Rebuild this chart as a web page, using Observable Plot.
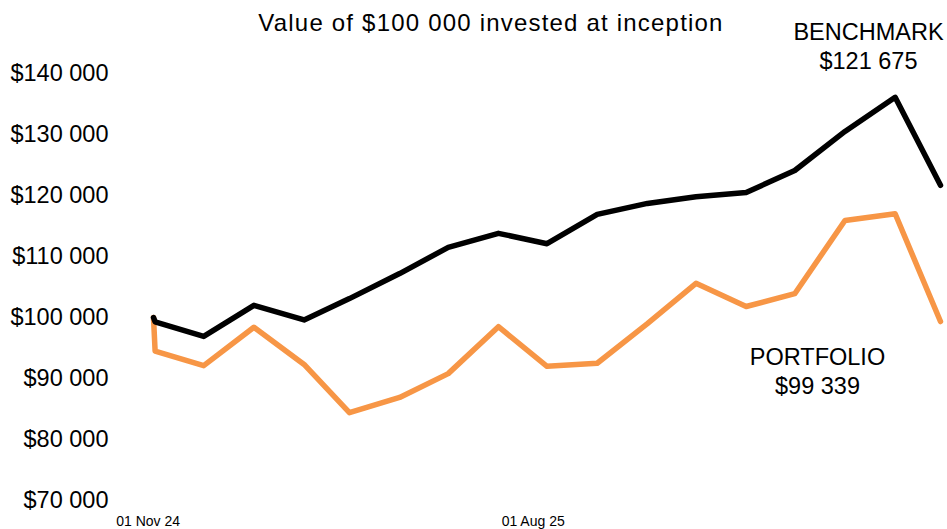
<!DOCTYPE html>
<html>
<head>
<meta charset="utf-8">
<script src="https://cdn.jsdelivr.net/npm/d3@7"></script>
<script src="https://cdn.jsdelivr.net/npm/@observablehq/plot@0.6"></script>
<style>
  html, body { margin: 0; padding: 0; background: #fff; }
  #wrap { position: relative; width: 947px; height: 529px; font-family: "Liberation Sans", Arial, sans-serif; }
  #title { position: absolute; top: 9px; left: 0; width: 982px; text-align: center; font-size: 24px; color: #000; letter-spacing: 1.2px; }
</style>
</head>
<body>
<div id="wrap"><div id="title">Value of $100 000 invested at inception</div></div>
<script>
const title = "Value of $100 000 invested at inception";
const dates = ["2024-10-31","2024-11-01","2024-12-01","2025-01-01","2025-02-01","2025-03-01","2025-04-01","2025-05-01","2025-06-01","2025-07-01","2025-08-01","2025-09-01","2025-10-01","2025-11-01","2025-12-01","2026-01-01","2026-02-01","2026-03-01"];
const benchmark = [100000, 99300, 96900, 102000, 99600, 103100, 107200, 111500, 113800, 112100, 116900, 118700, 119800, 120500, 124100, 130500, 136100, 121675];
const portfolio = [100000, 94500, 92100, 98400, 92300, 84400, 86900, 90800, 98500, 92000, 92500, 99000, 105600, 101800, 103900, 115900, 117000, 99339];
const seriesNames = ["BENCHMARK", "PORTFOLIO"];
const seriesColors = ["#000000", "#F79646"];
const yTicks = [70000, 80000, 90000, 100000, 110000, 120000, 130000, 140000];
const xTickDates = ["2024-11-01", "2025-08-01"];
const xTickLabels = ["01 Nov 24", "01 Aug 25"];

const parse = d3.utcParse("%Y-%m-%d");
const money = v => "$" + d3.format(",")(Math.round(v)).replace(/,/g, " ");

const rows = [];
// portfolio drawn first so the benchmark line sits on top
[[portfolio, 1], [benchmark, 0]].forEach(([vals, s]) => {
  vals.forEach((v, i) => rows.push({series: seriesNames[s], date: parse(dates[i]), value: v}));
});
const lastIdx = dates.length - 1;
const endLabels = [benchmark, portfolio].map((vals, s) => ({
  series: seriesNames[s], date: parse(dates[lastIdx]), value: vals[lastIdx],
  text: seriesNames[s] + "\n" + money(vals[lastIdx])
}));
const xt = xTickDates.map((d, i) => ({date: parse(d), label: xTickLabels[i]}));

const chart = Plot.plot({
  width: 947,
  height: 529,
  marginLeft: 153,
  marginRight: 7,
  marginTop: 73,
  marginBottom: 29,
  style: {fontFamily: "'Liberation Sans', Arial, sans-serif", background: "transparent", color: "#000"},
  x: {type: "utc", domain: [parse(dates[0]), parse(dates[lastIdx])], axis: null},
  y: {domain: [70000, 140000], axis: null},
  color: {domain: seriesNames, range: seriesColors},
  marks: [
    Plot.axisY(yTicks, {tickSize: 0, tickPadding: 45, tickFormat: money, fontSize: 23.5, fill: "#000", label: null}),
    Plot.line(rows, {x: "date", y: "value", z: "series", stroke: "series", strokeWidth: 5.5, strokeLinejoin: "round", strokeLinecap: "round", curve: "linear"}),
    Plot.text([xt[0]], {x: "date", text: "label", frameAnchor: "bottom", dy: 25, dx: -7, fontSize: 14, fill: "#000"}),
    Plot.text([xt[1]], {x: "date", text: "label", frameAnchor: "bottom", dy: 25, dx: -64, fontSize: 14, fill: "#000"}),
    Plot.text([endLabels[0]], {x: "date", y: "value", text: "text", dx: -72, dy: -140, fontSize: 23.5, lineHeight: 1.23, fill: "#000"}),
    Plot.text([endLabels[1]], {x: "date", y: "value", text: "text", dx: -123, dy: 49, fontSize: 23.5, lineHeight: 1.23, fill: "#000"})
  ]
});
document.getElementById("wrap").appendChild(chart);
</script>
</body>
</html>
